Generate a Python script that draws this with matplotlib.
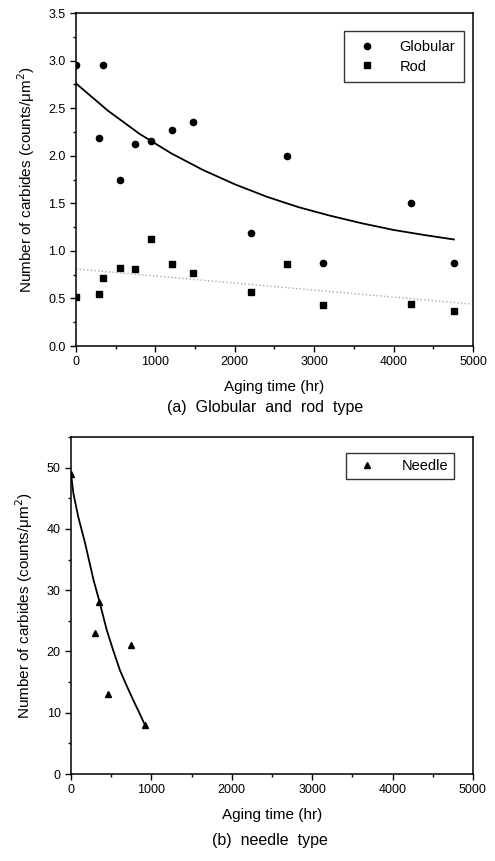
import numpy as np
import matplotlib.pyplot as plt
from matplotlib.ticker import MultipleLocator, FormatStrFormatter

plt.rcParams['font.family'] = ['Liberation Sans', 'DejaVu Sans']

# (a) globular and rod carbides
glob_t = [0, 290, 345, 560, 745, 940, 1205, 1470, 2210, 2660, 3110, 4225, 4765]
glob_n = [2.95, 2.19, 2.95, 1.74, 2.12, 2.15, 2.27, 2.35, 1.19, 2.00, 0.87, 1.50, 0.87]
rod_t = [0, 290, 345, 560, 745, 940, 1205, 1470, 2210, 2660, 3110, 4225, 4765]
rod_n = [0.52, 0.55, 0.71, 0.82, 0.81, 1.12, 0.86, 0.77, 0.57, 0.86, 0.43, 0.44, 0.37]
# fit lines
glob_fit_t = [0, 400, 800, 1200, 1600, 2000, 2400, 2800, 3200, 3600, 4000, 4400, 4760]
glob_fit_n = [2.76, 2.475, 2.23, 2.025, 1.85, 1.70, 1.57, 1.46, 1.37, 1.29, 1.22, 1.165, 1.12]
rod_fit_t = [0, 5000]
rod_fit_n = [0.81, 0.44]

# (b) needle carbides
ndl_t = [0, 295, 345, 465, 745, 920]
ndl_n = [49, 23, 28, 13, 21, 8]
ndl_fit_t = [0, 30, 90, 175, 280, 355, 445, 525, 610, 700, 780, 850, 920]
ndl_fit_n = [49, 45.8, 42.0, 37.7, 31.7, 28.1, 23.5, 20.2, 16.9, 14.2, 11.9, 10.0, 8.0]

fig = plt.figure(figsize=(4.95, 8.61), dpi=100)
ax1 = fig.add_axes([0.1535, 0.5981, 0.802, 0.3868])
ax2 = fig.add_axes([0.1434, 0.1010, 0.812, 0.3914])

ylab = 'Number of carbides (counts/\u03bcm$^2$)'

ax1.plot(glob_t, glob_n, 'o', color='black', ms=4.5, label='Globular')
ax1.plot(rod_t, rod_n, 's', color='black', ms=4.3, label='Rod')
ax1.plot(glob_fit_t, glob_fit_n, '-', color='black', lw=1.3)
ax1.plot(rod_fit_t, rod_fit_n, ':', color='#aaaaaa', lw=1.0)
ax1.set_xlim(0, 5000)
ax1.set_ylim(0, 3.5)
ax1.yaxis.set_major_locator(MultipleLocator(0.5))
ax1.yaxis.set_minor_locator(MultipleLocator(0.25))
ax1.yaxis.set_major_formatter(FormatStrFormatter('%.1f'))
ax1.set_xlabel('Aging time (hr)', fontsize=11, labelpad=8)
ax1.set_ylabel(ylab, fontsize=11, labelpad=8)
ax1.legend(loc='upper right', bbox_to_anchor=(0.977, 0.946), borderaxespad=0,
           fontsize=10.5, frameon=True, fancybox=False, edgecolor='black',
           handletextpad=1.2, borderpad=0.6, labelspacing=0.4)

ax2.plot(ndl_t, ndl_n, '^', color='black', ms=5, label='Needle')
ax2.plot(ndl_fit_t, ndl_fit_n, '-', color='black', lw=1.3)
ax2.set_xlim(0, 5000)
ax2.set_ylim(0, 55)
ax2.yaxis.set_major_locator(MultipleLocator(10))
ax2.yaxis.set_minor_locator(MultipleLocator(5))
ax2.set_xlabel('Aging time (hr)', fontsize=11, labelpad=8)
ax2.set_ylabel(ylab, fontsize=11, labelpad=8)
ax2.legend(loc='upper right', bbox_to_anchor=(0.953, 0.952), borderaxespad=0,
           fontsize=10.5, frameon=True, fancybox=False, edgecolor='black',
           handletextpad=1.4, borderpad=0.4)

for ax in (ax1, ax2):
    ax.xaxis.set_major_locator(MultipleLocator(1000))
    ax.xaxis.set_minor_locator(MultipleLocator(500))
    ax.tick_params(which='major', direction='out', length=4, width=1, labelsize=9)
    ax.tick_params(which='minor', direction='out', length=2.5, width=1)
    for s in ax.spines.values():
        s.set_linewidth(1.1)
    ax.legend_.get_frame().set_linewidth(1.0)

fig.text(0.535, 0.527, '(a)  Globular  and  rod  type', ha='center', va='center', fontsize=11.5)
fig.text(0.545, 0.024, '(b)  needle  type', ha='center', va='center', fontsize=11.5)

fig.savefig('out.png', dpi=100)
